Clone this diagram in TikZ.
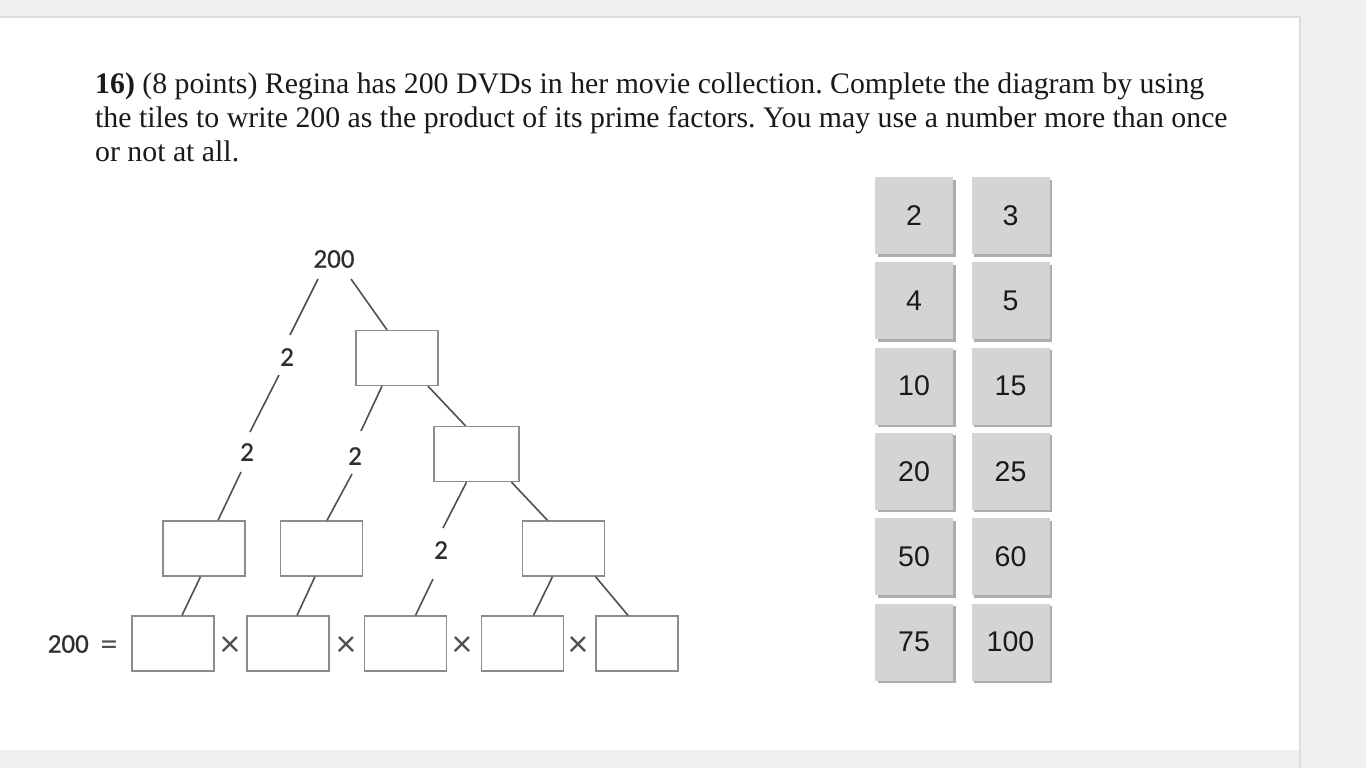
\documentclass[tikz,border=0pt]{standalone}
\usepackage{fontspec}
\setmainfont{Liberation Serif}
\newfontfamily\treefont[FakeBold=0.6]{Carlito}
\newfontfamily\signfont{Carlito}
\newfontfamily\tilefont{Liberation Sans}
\usetikzlibrary{shadows}
\definecolor{bgcol}{HTML}{EFF0F2}
\definecolor{edgecol}{HTML}{DCDDE0}
\definecolor{conncol}{HTML}{505050}
\definecolor{boxcol}{HTML}{8C8C8C}
\definecolor{tilefill}{HTML}{D4D4D6}
\definecolor{tileshadow}{HTML}{ADADAF}
\definecolor{txtcol}{HTML}{1A1A1A}
\definecolor{treetxt}{HTML}{2E2E2E}
\tikzset{
  conn/.style={draw=conncol, line width=1.6pt},
  blank/.style={draw=boxcol, line width=1.3pt, fill=white, minimum width=82pt, minimum height=55pt, inner sep=0pt},
  lab/.style={text=treetxt, font=\treefont\fontsize{27}{30}\selectfont, inner sep=0pt},
  timesign/.style={text=conncol, font=\signfont\fontsize{38}{40}\selectfont, inner sep=0pt, anchor=base},
  tile/.style={fill=tilefill, minimum width=78pt, minimum height=77pt, inner sep=0pt,
    text=txtcol, font=\tilefont\fontsize{28.5}{30}\selectfont,
    general shadow={fill=tileshadow, shadow xshift=2.5pt, shadow yshift=-2.5pt}},
  qline/.style={anchor=base west, inner sep=0pt, text=txtcol, font=\fontsize{29.8}{34}\selectfont}
}
\begin{document}
\frenchspacing
\begin{tikzpicture}[x=1pt, y=-1pt]
\path[use as bounding box] (0,0) rectangle (1366,768);
\fill[bgcol] (0,0) rectangle (1366,768);
\fill[white] (0,17) rectangle (1300,750);
\draw[edgecol, line width=1.5pt] (0,17) -- (1300,17) -- (1300,768);

% question text
\node[qline] (q1) at (95,93) {\textbf{16)} (8 points) Regina has 200 DVDs in her movie collection. Complete the diagram by using};
\node[qline] (q2) at (95,127) {the tiles to write 200 as the product of its prime factors. You may use a number more than once};
\node[qline] (q3) at (95,161) {or not at all.};

% factor tree
\node[lab] (n200) at (334,259) {200};
\node[lab] (l1) at (287,357) {2};
\node[lab] (l2) at (247,452) {2};
\node[lab] (l3) at (355,456) {2};
\node[lab] (l4) at (441,550) {2};

\node[blank] (b1) at (397,358) {};
\node[blank, minimum width=85pt] (b2) at (476.5,454) {};
\node[blank] (mA) at (204,548.5) {};
\node[blank] (mB) at (321.5,548.5) {};
\node[blank] (mC) at (563.5,548.5) {};

\node[blank] (r1) at (173,643.5) {};
\node[blank] (r2) at (288,643.5) {};
\node[blank] (r3) at (405.5,643.5) {};
\node[blank] (r4) at (522.5,643.5) {};
\node[blank] (r5) at (637,643.5) {};

\node[lab, anchor=east] (eq) at (89,644) {200};
\node[timesign, font=\signfont\fontsize{34}{34}\selectfont] (eqs) at (109,655) {=};
\node[timesign] (t1) at (230,656) {×};
\node[timesign] (t2) at (346,656) {×};
\node[timesign] (t3) at (462,656) {×};
\node[timesign] (t4) at (578,656) {×};

% connectors
\draw[conn] ([shift={(-16,20)}]n200.center) -- ([shift={(3,-22)}]l1.center);
\draw[conn] ([shift={(-8,18)}]l1.center) -- ([shift={(3,-20)}]l2.center);
\draw[conn] ([shift={(-6,20)}]l2.center) -- ([xshift=14pt]mA.north);
\draw[conn] ([shift={(17,20)}]n200.center) -- ([xshift=-10pt]b1.north);
\draw[conn] ([xshift=-15pt]b1.south) -- ([shift={(6,-25)}]l3.center);
\draw[conn] ([shift={(-3,18)}]l3.center) -- ([xshift=5.5pt]mB.north);
\draw[conn] ([xshift=31pt]b1.south) -- ([xshift=-11pt]b2.north);
\draw[conn] ([xshift=-10pt]b2.south) -- ([shift={(2,-22)}]l4.center);
\draw[conn] ([shift={(-8,29)}]l4.center) -- ([xshift=10pt]r3.north);
\draw[conn] ([xshift=35pt]b2.south) -- ([xshift=-16pt]mC.north);
\draw[conn] ([xshift=-3.5pt]mA.south) -- ([xshift=9pt]r1.north);
\draw[conn] ([xshift=-6.5pt]mB.south) -- ([xshift=9pt]r2.north);
\draw[conn] ([xshift=-11pt]mC.south) -- ([xshift=11pt]r4.north);
\draw[conn] ([xshift=32pt]mC.south) -- ([xshift=-9pt]r5.north);

% tiles
\node[tile] (k2) at (914,215.5) {2};
\node[tile] (k3) at (1010.5,215.5) {3};
\node[tile] (k4) at (914,300.8) {4};
\node[tile] (k5) at (1010.5,300.8) {5};
\node[tile] (k10) at (914,386.1) {10};
\node[tile] (k15) at (1010.5,386.1) {15};
\node[tile] (k20) at (914,471.4) {20};
\node[tile] (k25) at (1010.5,471.4) {25};
\node[tile] (k50) at (914,556.7) {50};
\node[tile] (k60) at (1010.5,556.7) {60};
\node[tile] (k75) at (914,642) {75};
\node[tile] (k100) at (1010.5,642) {100};
\end{tikzpicture}
\end{document}
